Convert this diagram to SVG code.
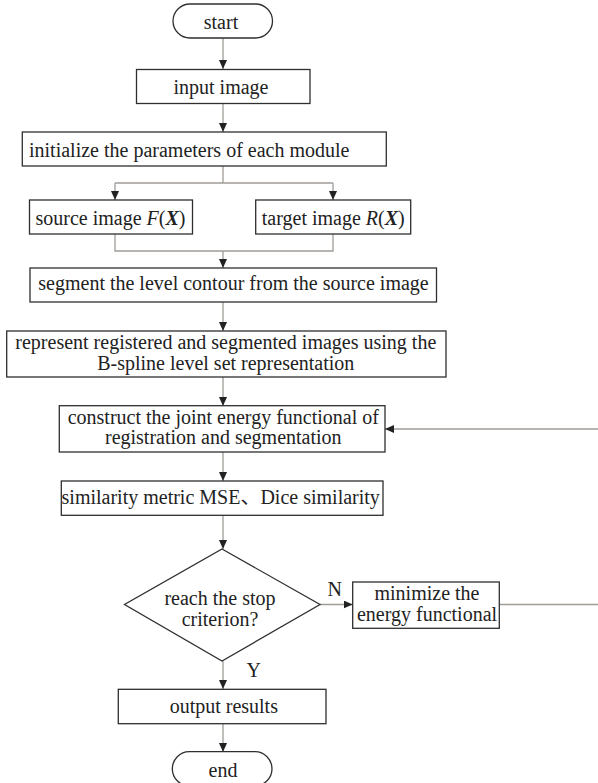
<svg xmlns="http://www.w3.org/2000/svg" width="598" height="783" viewBox="0 0 598 783">
<defs>
<marker id="ah" markerWidth="10" markerHeight="10" refX="9" refY="4" orient="auto" markerUnits="userSpaceOnUse">
<path d="M0,0 L9,4 L0,8 Z" fill="#222"/>
</marker>
<style>
.box{fill:#fff;stroke:#2f2f2f;stroke-width:1.3}
.t{font-family:"Liberation Serif","Times New Roman",serif;font-size:20px;fill:#222}
.c{text-anchor:middle}
.ln{fill:none;stroke:#a09c98;stroke-width:1.3}
.la{fill:none;stroke:#a09c98;stroke-width:1.3;marker-end:url(#ah)}
</style>
</defs>
<rect width="598" height="783" fill="#fff"/>
<g id="connectors">
<path class="la" d="M223,38 V69"/>
<path class="la" d="M223,104 V132"/>
<path class="ln" d="M223,166 V183 M115,183 H333"/>
<path class="la" d="M115,183 V200"/>
<path class="la" d="M333,183 V200"/>
<path class="ln" d="M115,234 V251 H333 V234"/>
<path class="la" d="M223,251 V268"/>
<path class="la" d="M223,302 V331"/>
<path class="la" d="M223,377 V406"/>
<path class="la" d="M223,452 V481"/>
<path class="la" d="M223,515 V549"/>
<path class="la" d="M320,604.5 H352.7"/>
<path class="la" d="M499.3,604.5 H602 V429 H385"/>
<path class="la" d="M223,661 V689"/>
<path class="la" d="M223,724 V752"/>
</g>
<g id="start"><rect class="box" x="173" y="4" width="99.5" height="34" rx="17"/><text class="t c" x="221" y="29">start</text></g>
<g id="input"><rect class="box" x="136.5" y="69.5" width="173.5" height="34"/><text class="t c" x="221" y="93.5">input image</text></g>
<g id="init"><rect class="box" x="22.3" y="132" width="364" height="34"/><text class="t" x="29" y="156.5">initialize the parameters of each module</text></g>
<g id="source"><rect class="box" x="29.5" y="200" width="163" height="34"/><text class="t c" x="110.5" y="225">source image <tspan font-style="italic">F</tspan>(<tspan font-weight="bold" font-style="italic">X</tspan>)</text></g>
<g id="target"><rect class="box" x="255.7" y="200" width="155" height="34"/><text class="t c" x="333.3" y="225">target image <tspan font-style="italic">R</tspan>(<tspan font-weight="bold" font-style="italic">X</tspan>)</text></g>
<g id="segment"><rect class="box" x="30" y="268" width="406.5" height="34"/><text class="t c" x="233.5" y="290">segment the level contour from the source image</text></g>
<g id="represent"><rect class="box" x="6.7" y="331" width="439.3" height="46"/><text class="t c" x="225.8" y="349">represent registered and segmented images using the</text><text class="t c" x="225.8" y="369.5">B-spline level set representation</text></g>
<g id="construct"><rect class="box" x="59.3" y="405.7" width="325.7" height="46.3"/><text class="t c" x="223.3" y="423.5">construct the joint energy functional of</text><text class="t c" x="223.3" y="443.5">registration and segmentation</text></g>
<g id="similarity"><rect class="box" x="61.3" y="481" width="321.7" height="34.3"/><text class="t c" x="220.7" y="504">similarity metric MSE<tspan font-family="'Noto Sans CJK SC',sans-serif">、</tspan>Dice similarity</text></g>
<g id="decision"><path class="box" d="M222,549 L320,604.5 L222,661 L124.5,604.5 Z"/><text class="t c" x="220" y="605">reach the stop</text><text class="t c" x="220" y="625.7">criterion?</text></g>
<g id="minimize"><rect class="box" x="352.7" y="582" width="146.6" height="46.3"/><text class="t c" x="427" y="600">minimize the</text><text class="t c" x="427" y="620.7">energy functional</text></g>
<g id="labels"><text class="t" x="327.5" y="595.7">N</text><text class="t" x="246.5" y="677.3">Y</text></g>
<g id="output"><rect class="box" x="118.3" y="689.3" width="207.7" height="34.4"/><text class="t c" x="223.8" y="713.3">output results</text></g>
<g id="end"><rect class="box" x="172.3" y="751.7" width="99.7" height="34" rx="17"/><text class="t c" x="223" y="776.7">end</text></g>
</svg>
